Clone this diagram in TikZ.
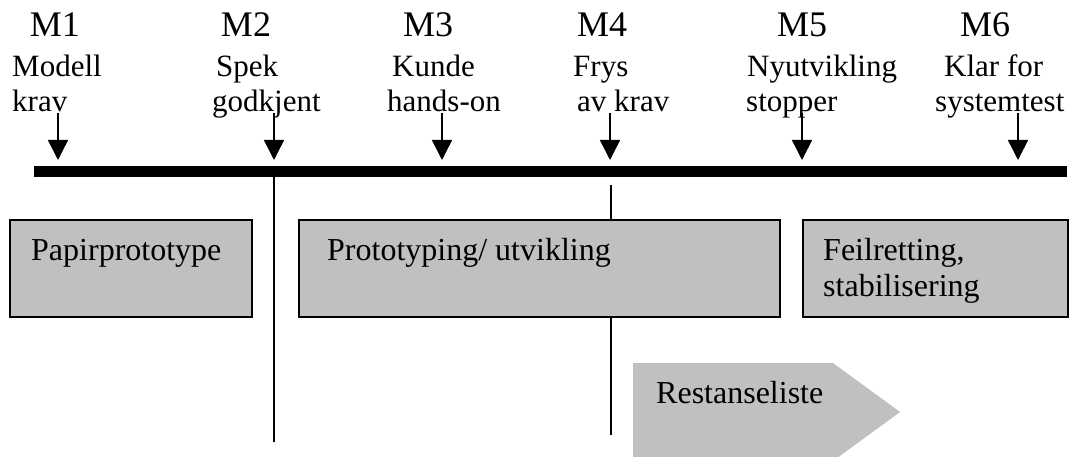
\documentclass[tikz,border=0pt]{standalone}
\usepackage{fontspec}
\setmainfont{Liberation Serif}
\usetikzlibrary{arrows.meta,positioning}
\definecolor{fasegraa}{RGB}{192,192,192}
\tikzset{
  milepel/.style={font=\fontsize{36}{40}\selectfont, anchor=base, inner sep=0pt},
  tekst/.style={font=\fontsize{31}{36}\selectfont, anchor=base west, inner sep=0pt},
  fasetekst/.style={tekst, font=\fontsize{32}{36}\selectfont},
  fase/.style={draw, fill=fasegraa, line width=1.5pt, anchor=north west, inner sep=0pt, minimum height=97pt},
  pil/.style={line width=1.5pt, -{Triangle[width=20pt,length=20pt]}},
  strek/.style={line width=1.5pt},
}
\begin{document}
\begin{tikzpicture}[x=1pt, y=-1pt]
    \useasboundingbox (0,0) rectangle (1075,457);
    % Tidslinje
    \coordinate (start) at (34,171.5);
    \coordinate (slutt) at (1067,171.5);
    \draw[line width=11pt] (start) -- (slutt);
    % Milepaeler
    \node[milepel] (m1) at (55,37) {M1};
    \node[milepel] (m2) at (246,37) {M2};
    \node[milepel] (m3) at (428,37) {M3};
    \node[milepel] (m4) at (602,37) {M4};
    \node[milepel] (m5) at (802,37) {M5};
    \node[milepel] (m6) at (985,37) {M6};
    \node[tekst] (m1a) at (12,77) {Modell};
    \node[tekst] (m1b) at (12,112) {krav};
    \node[tekst] (m2a) at (216,77) {Spek};
    \node[tekst] (m2b) at (212,112) {godkjent};
    \node[tekst] (m3a) at (392,77) {Kunde};
    \node[tekst] (m3b) at (387,112) {hands-on};
    \node[tekst] (m4a) at (573,77) {Frys};
    \node[tekst] (m4b) at (577,112) {av krav};
    \node[tekst] (m5a) at (747,77) {Nyutvikling};
    \node[tekst] (m5b) at (746,112) {stopper};
    \node[tekst] (m6a) at (944,77) {Klar for};
    \node[tekst] (m6b) at (935,112) {systemtest};
    % Piler ned mot tidslinjen
    \coordinate (p1) at (58,113);  \coordinate (q1) at (58,160);
    \coordinate (p2) at (274,113); \coordinate (q2) at (274,160);
    \coordinate (p3) at (442,113); \coordinate (q3) at (442,160);
    \coordinate (p4) at (610,113); \coordinate (q4) at (610,160);
    \coordinate (p5) at (802,113); \coordinate (q5) at (802,160);
    \coordinate (p6) at (1018,113); \coordinate (q6) at (1018,160);
    \draw[pil] (p1) -- (q1);
    \draw[pil] (p2) -- (q2);
    \draw[pil] (p3) -- (q3);
    \draw[pil] (p4) -- (q4);
    \draw[pil] (p5) -- (q5);
    \draw[pil] (p6) -- (q6);
    % Skillelinjer
    \coordinate (s2a) at (274,177); \coordinate (s2b) at (274,442);
    \coordinate (s4a) at (611,185); \coordinate (s4b) at (611,435);
    \draw[strek] (s2a) -- (s2b);
    \draw[strek] (s4a) -- (s4b);
    % Faser
    \node[fase, minimum width=242pt] (papir) at (9,219) {};
    \node[fase, minimum width=481pt] (proto) at (298,219) {};
    \node[fase, minimum width=265pt] (feil) at (802,219) {};
    \node[fasetekst] (papirtekst) at ([shift={(22,41)}]papir.north west) {Papirprototype};
    \node[fasetekst] (prototekst) at ([shift={(29,41)}]proto.north west) {Prototyping/ utvikling};
    \node[fasetekst] (feiltekst) at ([shift={(21,41)}]feil.north west) {Feilretting,};
    \node[fasetekst] (stabtekst) at ([shift={(21,77)}]feil.north west) {stabilisering};
    % Restanseliste
    \fill[fasegraa] (633,363) -- (833,363) -- (900,412) -- (833,461) -- (633,461) -- cycle;
    \node[fasetekst] (rest) at (656,403) {Restanseliste};
\end{tikzpicture}
\end{document}
